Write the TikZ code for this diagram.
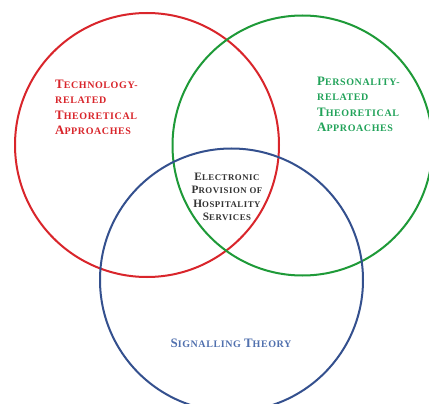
\documentclass[tikz,border=0pt]{standalone}
\usepackage{fontspec}
\setmainfont{Liberation Serif}[LetterSpace=6]
\definecolor{cred}{HTML}{D9252B}
\definecolor{cgreen}{HTML}{1E9A38}
\definecolor{cgtext}{HTML}{22A35A}
\definecolor{cblue}{HTML}{34508E}
\definecolor{cbtext}{HTML}{5070AE}
\definecolor{ctext}{HTML}{333333}
\newcommand\fsc[2]{{\fontsize{12.9}{15.2}\selectfont #1}{\fontsize{10}{15.2}\selectfont #2}}
\newcommand\fscs[2]{{\fontsize{11.3}{13.3}\selectfont #1}{\fontsize{8.8}{13.3}\selectfont #2}}
\tikzset{
  ring/.style={line width=2pt},
  biglabel/.style={font=\bfseries\fontsize{12.9}{15.2}\selectfont, align=left, inner sep=0pt, anchor=north west},
  midlabel/.style={font=\bfseries\fontsize{11.3}{13.3}\selectfont, align=center, inner sep=0pt, text=ctext},
}
\begin{document}
\begin{tikzpicture}[x=1pt,y=-1pt]
\useasboundingbox (0,0) rectangle (429,404);
\fill[white] (0,0) rectangle (429,404);
\clip (0,0) rectangle (429,404);
\draw[ring, cred] (147,145) circle (132);
\draw[ring, cgreen] (302.5,145.5) circle (130);
\draw[ring, cblue] (231.5,280) circle (131.5);
\node[biglabel, text=cred] (tech) at (55,80) {\fsc{T}{ECHNOLOGY-}\\\fsc{}{RELATED}\\\fsc{T}{HEORETICAL}\\\fsc{A}{PPROACHES}};
\node[biglabel, text=cgtext] (pers) at (317,77) {\fsc{P}{ERSONALITY-}\\\fsc{}{RELATED}\\\fsc{T}{HEORETICAL}\\\fsc{A}{PPROACHES}};
\node[midlabel] (elec) at (227,197) {\fscs{E}{LECTRONIC}\\\fscs{P}{ROVISION OF}\\\fscs{H}{OSPITALITY}\\\fscs{S}{ERVICES}};
\node[font=\bfseries, text=cbtext, inner sep=0pt] (sig) at (231,343.5) {\fsc{S}{IGNALLING} \fsc{T}{HEORY}};
\end{tikzpicture}
\end{document}
